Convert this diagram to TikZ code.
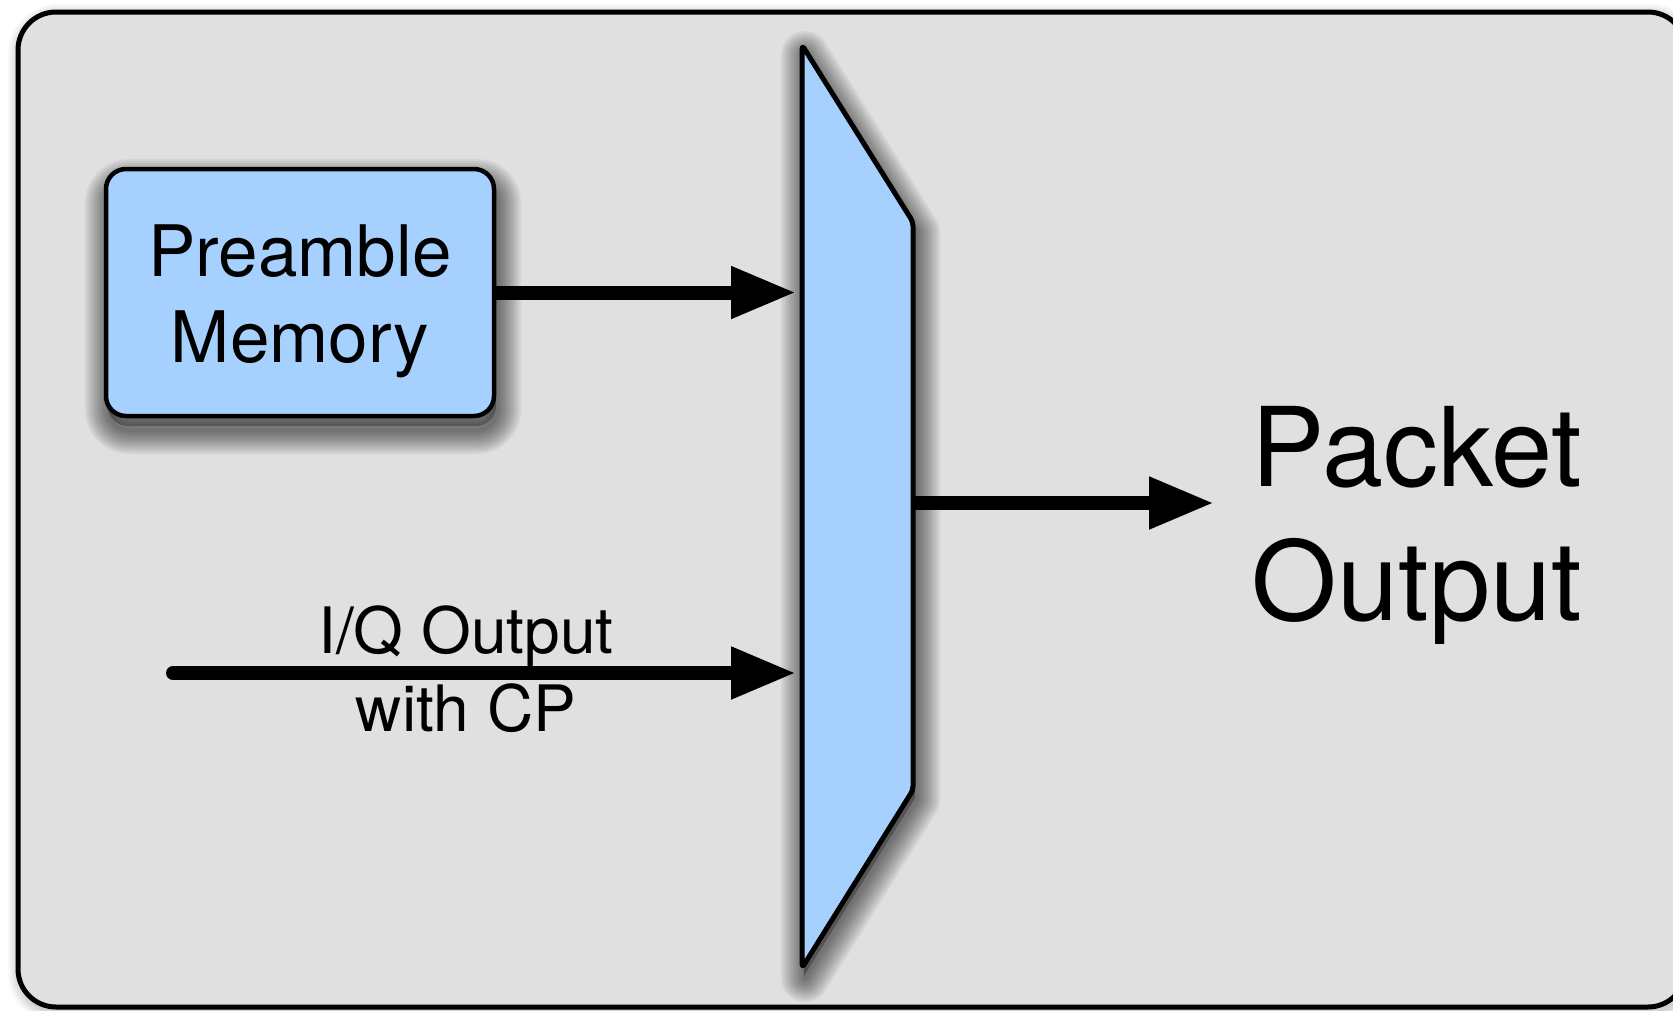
\documentclass[tikz,border=0pt]{standalone}
\usepackage{fontspec}
\setmainfont{TeX Gyre Heros}
\usetikzlibrary{arrows.meta}
\definecolor{bg}{RGB}{224,224,224}
\definecolor{muxblue}{RGB}{166,209,255}
\begin{document}
\begin{tikzpicture}[x=1pt,y=-1pt,
  shadowlayer/.style={draw=black, draw opacity=0.05, line join=round},
  shadowbase/.style={fill=black, fill opacity=0.3},
  blk/.style={draw=black, line width=4.5pt, fill=muxblue, rounded corners=20pt},
  sig/.style={line width=14pt, -{Triangle[length=65pt,width=49pt]}},
  txt/.style={inner sep=0pt, align=center, text=black}
]
\useasboundingbox (0,0) rectangle (1673,1010);
\fill[white] (0,0) rectangle (1673,1010);
% outer panel
\foreach \i in {1,...,8}
  \path[shadowlayer, draw opacity=0.025, line width=\i*3pt, rounded corners=38pt] (20,16) rectangle (1689,1011);
\draw[line width=5pt, fill=bg, rounded corners=38pt] (18,12) rectangle (1686,1007);
% preamble memory shadow
\path[shadowbase, rounded corners=20pt] (108,182) rectangle (496,426);
\foreach \i in {1,...,12}
  \path[shadowlayer, line width=\i*4pt, rounded corners=20pt] (109,183) rectangle (497,430);
\node[blk, minimum width=388pt, minimum height=247pt, txt, inner sep=0pt,
  font=\fontsize{71}{86}\selectfont] (pm) at (300,292.5) {\rule{0pt}{70pt}Preamble\\Memory};
% multiplexer shadow
\path[shadowbase] (804,53) -- (915,230) -- (915,798) -- (804,976) -- cycle;
\foreach \i in {1,...,12}
  \path[shadowlayer, line width=\i*4pt] (805,55) -- (916,232) -- (916,800) -- (805,978) -- cycle;
\draw[line width=5pt, fill=muxblue, rounded corners=4pt, line join=round]
  (802,45) -- (913,222) -- (913,790) -- (802,968) -- cycle;
\coordinate (muxin) at (796,503);
\coordinate (muxout) at (913,503);
\coordinate (iqstart) at (173,673);
\coordinate (outend) at (1214,503);
% labels
\node[txt, font=\fontsize{64}{78}\selectfont] (iq) at (466,669) {I/Q Output\\with CP};
\node[txt, font=\fontsize{110}{134}\selectfont] (po) at (1417,525) {Packet\\Output};
% connectors
\draw[sig] (pm.east) -- (pm.east -| muxin);
\draw[sig, line cap=round] (iqstart) -- (iqstart -| muxin);
\draw[sig] (muxout) -- (outend);
\end{tikzpicture}
\end{document}
